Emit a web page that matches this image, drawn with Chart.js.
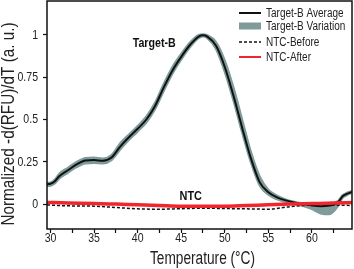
<!DOCTYPE html>
<html>
<head>
<meta charset="utf-8">
<script src="https://cdn.jsdelivr.net/npm/chart.js@4/dist/chart.umd.min.js"></script>
<style>
  html, body { margin: 0; padding: 0; background: #fff; }
  canvas { display: block; }
</style>
</head>
<body>
<canvas id="mycanvas" width="354" height="269"></canvas>
<script>
// temperatures (°C) for the Target-B curves
var temps = [29.6,30,30.5,31,32,33,34,35,36,37,38,39,40,41,42,43,44,45,46,47,47.5,48,49,50,51,52,53,54,55,56,57,58,59,60,61,62,63,63.5,64,64.6];
var avg = [0.118,0.12,0.135,0.165,0.2,0.235,0.258,0.26,0.256,0.275,0.34,0.395,0.445,0.5,0.58,0.69,0.79,0.87,0.94,0.99,0.997,0.99,0.935,0.81,0.64,0.45,0.27,0.13,0.07,0.04,0.022,0.01,0.0,-0.008,-0.012,-0.008,0.01,0.045,0.06,0.072];
var upper = [0.126,0.128,0.145,0.18,0.215,0.25,0.273,0.276,0.27,0.29,0.36,0.412,0.462,0.518,0.6,0.712,0.812,0.888,0.955,1.0,1.003,0.998,0.958,0.85,0.69,0.5,0.31,0.165,0.085,0.05,0.028,0.014,0.005,-0.002,-0.006,-0.002,0.02,0.052,0.067,0.078];
var lower = [0.106,0.108,0.122,0.15,0.185,0.218,0.24,0.243,0.24,0.26,0.322,0.378,0.428,0.482,0.56,0.668,0.77,0.853,0.926,0.98,0.99,0.98,0.915,0.78,0.61,0.42,0.245,0.11,0.055,0.028,0.012,0.0,-0.012,-0.03,-0.055,-0.06,-0.012,0.035,0.052,0.066];

// NTC curves
var ntcTemps = [29.6,32,35,37.5,40,42.5,45,47.5,50,52.5,55,57.5,60,62.5,64.6];
var ntcAfter = [0.01,0.007,0.004,0.0,-0.004,-0.008,-0.012,-0.012,-0.012,-0.008,-0.004,0.0,0.003,0.006,0.01];
var ntcBefore = [-0.005,-0.01,-0.012,-0.02,-0.028,-0.03,-0.027,-0.024,-0.026,-0.028,-0.03,-0.015,-0.006,-0.006,-0.008];

var xTicks = [30,32.5,35,37.5,40,42.5,45,47.5,50,52.5,55,57.5,60,62.5];
var yTicks = [0,0.25,0.5,0.75,1];
var legendLabels = ['Target-B Average','Target-B Variation','NTC-Before','NTC-After'];

var FONT = "'Liberation Sans', Arial, sans-serif";
var BAND = '#7f9c9b';
var RED = '#f0262c';
var INK = '#222';

function pairs(xs, ys) {
    var out = [];
    for (var i in xs) {
        out.push({x: xs[i], y: ys[i]});
    }
    return out;
}

// the original uses a narrow face, so squeeze the text horizontally
function narrowText(ctx, text, x, y, squeeze, rot) {
    ctx.save();
    ctx.translate(x, y);
    if (rot) ctx.rotate(rot);
    ctx.scale(squeeze, 1);
    ctx.fillText(text, 0, 0);
    ctx.restore();
}

var extras = {
    id: 'extras',
    afterDraw: function(chart) {
        var ctx = chart.ctx;
        var a = chart.chartArea;
        var sx = chart.scales.x, sy = chart.scales.y;
        ctx.save();
        ctx.strokeStyle = '#111';
        ctx.lineWidth = 1.5;
        ctx.strokeRect(a.left, a.top, a.right - a.left, a.bottom - a.top);

        // tick labels
        ctx.fillStyle = INK;
        ctx.font = '13.5px ' + FONT;
        ctx.textBaseline = 'alphabetic';
        ctx.textAlign = 'center';
        for (var i in xTicks) {
            if (xTicks[i] % 5 == 0) {
                narrowText(ctx, String(xTicks[i]), sx.getPixelForValue(xTicks[i]), a.bottom + 13, 0.78);
            }
        }
        ctx.textAlign = 'right';
        ctx.textBaseline = 'middle';
        for (var j in yTicks) {
            narrowText(ctx, String(yTicks[j]), 38, sy.getPixelForValue(yTicks[j]), 0.78);
        }

        // axis titles
        ctx.font = '18px ' + FONT;
        ctx.textAlign = 'center';
        ctx.textBaseline = 'alphabetic';
        narrowText(ctx, 'Temperature (°C)', (a.left + a.right) / 2 + 3, 264, 0.76);
        narrowText(ctx, 'Normalized -d(RFU)/dT (a. u.)', 14, 124, 0.85, -Math.PI / 2);

        // legend
        var rows = [13, 26, 42, 57];
        var x0 = 239, x1 = 261;
        ctx.font = '12.5px ' + FONT;
        ctx.textBaseline = 'middle';
        ctx.textAlign = 'left';
        for (var k = 0; k < legendLabels.length; k++) {
            var y = rows[k];
            if (k == 1) {
                ctx.fillStyle = BAND;
                ctx.fillRect(x0, y - 3.5, x1 - x0, 7);
            } else {
                ctx.beginPath();
                ctx.setLineDash(k == 2 ? [3, 2] : []);
                ctx.strokeStyle = k == 3 ? RED : '#111';
                ctx.lineWidth = k == 2 ? 1.5 : 2;
                ctx.moveTo(x0, y);
                ctx.lineTo(x1, y);
                ctx.stroke();
                ctx.setLineDash([]);
            }
            ctx.fillStyle = INK;
            narrowText(ctx, legendLabels[k], 266, y + 0.5, 0.8);
        }

        // curve labels
        ctx.font = 'bold 13px ' + FONT;
        ctx.textAlign = 'center';
        ctx.fillStyle = '#111';
        narrowText(ctx, 'Target-B', sx.getPixelForValue(41.9), sy.getPixelForValue(0.951), 0.82);
        narrowText(ctx, 'NTC', sx.getPixelForValue(46.1), sy.getPixelForValue(0.045), 0.84);
        ctx.restore();
    }
};

var config = {
    type: 'line',
    data: {
        datasets: [
            {
                label: 'upper',
                data: pairs(temps, upper),
                borderColor: BAND,
                borderWidth: 2,
                fill: false,
                order: 5
            },
            {
                label: 'Target-B Variation',
                data: pairs(temps, lower),
                borderColor: BAND,
                backgroundColor: BAND,
                borderWidth: 2,
                fill: '-1',
                order: 4
            },
            {
                label: 'Target-B Average',
                data: pairs(temps, avg),
                borderColor: '#111',
                borderWidth: 2,
                order: 2
            },
            {
                label: 'NTC-Before',
                data: pairs(ntcTemps, ntcBefore),
                borderColor: '#111',
                borderWidth: 1.5,
                borderDash: [3, 2],
                order: 1
            },
            {
                label: 'NTC-After',
                data: pairs(ntcTemps, ntcAfter),
                borderColor: RED,
                borderWidth: 3.5,
                order: 0
            }
        ]
    },
    options: {
        responsive: false,
        animation: false,
        elements: {
            point: { radius: 0 },
            line: { cubicInterpolationMode: 'monotone' }
        },
        layout: { padding: { top: 1, right: 2, left: 0, bottom: 0 } },
        plugins: {
            legend: { display: false },
            tooltip: { enabled: false }
        },
        scales: {
            x: {
                type: 'linear',
                min: 29.6,
                max: 64.6,
                afterFit: function(s) { s.height = 40; },
                afterBuildTicks: function(s) {
                    s.ticks = xTicks.map(function(v) { return {value: v}; });
                },
                border: { display: false },
                grid: { drawOnChartArea: false, tickLength: 4, tickColor: '#111', tickWidth: 1.2 },
                ticks: { display: false }
            },
            y: {
                min: -0.147,
                max: 1.2,
                afterFit: function(s) { s.width = 47; },
                afterBuildTicks: function(s) {
                    s.ticks = yTicks.map(function(v) { return {value: v}; });
                },
                border: { display: false },
                grid: { drawOnChartArea: false, tickLength: 4, tickColor: '#111', tickWidth: 1.2 },
                ticks: { display: false }
            }
        }
    },
    plugins: [extras]
};

var ctx = document.getElementById("mycanvas").getContext("2d");
var meltChart = new Chart(ctx, config);
</script>
</body>
</html>
